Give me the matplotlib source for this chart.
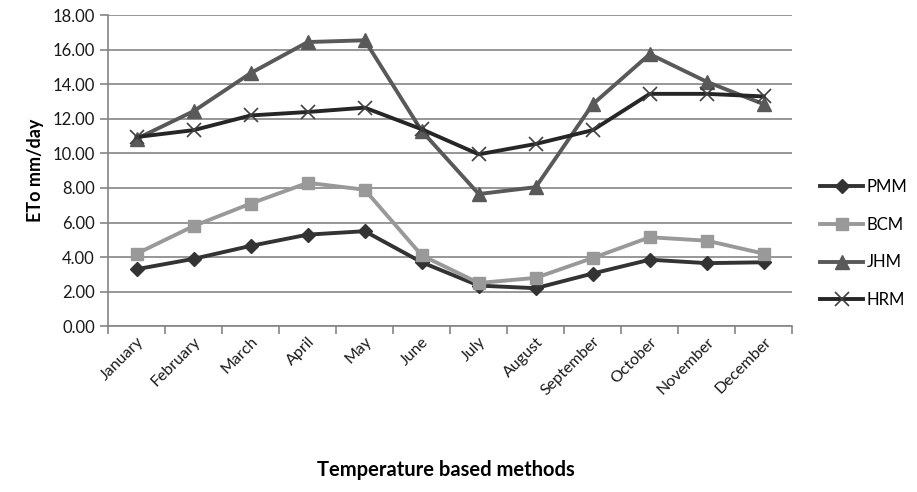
import numpy as np
import matplotlib
matplotlib.use("Agg")
import matplotlib.pyplot as plt
from matplotlib.ticker import FixedLocator, FormatStrFormatter

plt.rcParams['font.family'] = ['Lato', 'DejaVu Sans']

months = ["January", "February", "March", "April", "May", "June",
          "July", "August", "September", "October", "November", "December"]

pmm = [3.30, 3.90, 4.65, 5.30, 5.50, 3.70, 2.35, 2.20, 3.05, 3.85, 3.65, 3.70]
bcm = [4.20, 5.80, 7.10, 8.30, 7.90, 4.10, 2.50, 2.80, 3.95, 5.15, 4.95, 4.20]
jhm = [10.85, 12.45, 14.65, 16.45, 16.55, 11.30, 7.65, 8.05, 12.85, 15.75, 14.15, 12.85]
hrm = [10.95, 11.35, 12.20, 12.40, 12.65, 11.40, 9.95, 10.55, 11.35, 13.45, 13.45, 13.30]

series = [
    ("PMM", pmm, "#333333", "D", 7),
    ("BCM", bcm, "#999999", "s", 9),
    ("JHM", jhm, "#595959", "^", 10),
    ("HRM", hrm, "#262626", "x", 10),
]

fig = plt.figure(figsize=(9.17, 4.92), dpi=100)
ax = fig.add_axes([0.118, 0.337, 0.746, 0.632])

x = np.arange(len(months))
for name, vals, color, marker, ms in series:
    if marker == "x":
        ax.plot(x, vals, color=color, lw=2.8, marker=marker, ms=ms,
                mew=1.2, mec="#404040", label=name, zorder=3)
    else:
        ax.plot(x, vals, color=color, lw=2.8, marker=marker, ms=ms,
                mec=color, label=name, zorder=3)

ax.set_xlim(-0.5, 11.5)
ax.set_ylim(0, 18)
ax.set_yticks(np.arange(0, 18.1, 2))
ax.yaxis.set_major_formatter(FormatStrFormatter("%.2f"))
ax.yaxis.grid(True, color="#858585", lw=1.2)
ax.set_axisbelow(True)

# category boundaries carry the tick marks, labels sit at the centres
ax.xaxis.set_major_locator(FixedLocator(np.arange(-0.5, 12, 1)))
ax.xaxis.set_minor_locator(FixedLocator(x))
ax.set_xticklabels([])
ax.set_xticklabels(months, minor=True, rotation=45, ha="right",
                   rotation_mode="anchor", fontsize=11.5, color="#1a1a1a")
ax.tick_params(axis="x", which="major", length=6, width=1.2, color="#858585")
ax.tick_params(axis="x", which="minor", length=0, pad=6)
ax.tick_params(axis="y", length=6, width=1.2, color="#858585",
               labelsize=12, labelcolor="#1a1a1a")

for side in ["top", "right"]:
    ax.spines[side].set_visible(False)
for side in ["left", "bottom"]:
    ax.spines[side].set_color("#858585")
    ax.spines[side].set_linewidth(1.2)

ax.set_ylabel("ETo mm/day", fontsize=13, fontweight="bold", labelpad=6)
fig.text(0.486, 0.045, "Temperature based methods", fontsize=14.5,
         fontweight="bold", ha="center", va="center")

fig.legend(loc="center left", bbox_to_anchor=(0.885, 0.505), frameon=False,
           fontsize=12, handlelength=2.6, labelspacing=1.3, handletextpad=0.2,
           borderpad=0)

fig.savefig("out.png", dpi=100)
